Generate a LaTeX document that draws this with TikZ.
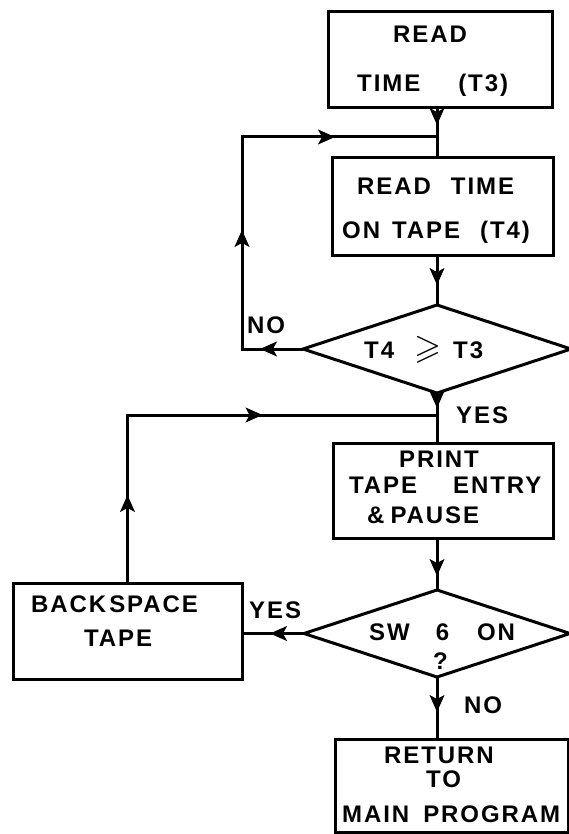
\documentclass[tikz,border=0pt]{standalone}
\usepackage{fontspec}
\usepackage{amssymb}
\usepackage{graphicx}
\setmainfont{Liberation Sans}
\newfontfamily\lettering{Liberation Sans}[LetterSpace=8]
\usetikzlibrary{arrows.meta,decorations.markings,shapes.geometric}
\newcommand\wgap[1]{\hspace*{#1pt}}
\begin{document}
\begin{tikzpicture}[x=1pt,y=-1pt,
  lw/.style={line width=3pt},
  boxnode/.style={draw,lw,rectangle,inner sep=0pt,outer sep=0pt},
  decnode/.style={draw,lw,diamond,inner sep=0pt,outer sep=0pt},
  txt/.style={font=\lettering\bfseries\fontsize{24}{24}\selectfont,anchor=base west,inner sep=0pt},
  conn/.style={lw},
  arrowsat/.style={postaction={decorate,decoration={markings,mark=at position #1 with {\arrow[line width=1.2pt]{Stealth[length=17pt,width=15pt,inset=4pt]}}}}}
]
\useasboundingbox (0,0) rectangle (569,834);
\fill[white] (0,0) rectangle (569,834);

% boxes
\node[boxnode,minimum width=224pt,minimum height=96pt] (b1) at (440,60) {};
\node[boxnode,minimum width=221pt,minimum height=97pt] (b2) at (442.5,206.5) {};
\node[decnode,minimum width=268pt,minimum height=88pt] (d1) at (437,349) {};
\node[boxnode,minimum width=220pt,minimum height=95pt] (b3) at (443,490.5) {};
\node[decnode,minimum width=266pt,minimum height=87pt] (d2) at (437,633.5) {};
\node[boxnode,minimum width=229pt,minimum height=96pt] (bs) at (127.5,631) {};
\node[boxnode,minimum width=233pt,minimum height=93pt] (rt) at (451.5,785.5) {};

% junctions and corners
\coordinate (j1) at (437,137);
\coordinate (lx) at (242,137);
\coordinate (j2) at (437,415);

% texts
\node[txt] (t1a) at (393,43) {READ};
\node[txt] (t1b) at (357,92) {TIME\wgap{38}(T3)};
\node[txt] (t2a) at (357,195) {READ\wgap{20}TIME};
\node[txt] (t2b) at (342,238) {ON\wgap{12}TAPE\wgap{20}(T4)};
\node[txt] (t3) at (364,358) {T4\wgap{20}\scalebox{1.45}{\boldmath$\geqslant$}\wgap{12}T3};
\node[txt] (tno1) at (247,333) {NO};
\node[txt] (tyes1) at (456,423) {YES};
\node[txt] (t4a) at (399,467) {PRINT};
\node[txt] (t4b) at (349,493) {TAPE\wgap{36}ENTRY};
\node[txt] (t4c) at (367,523) {\&\wgap{6}PAUSE};
\node[txt] (t5a) at (369,640) {SW\wgap{26}6\wgap{28}ON};
\node[txt] (t5b) at (433,669) {?};
\node[txt] (tyes2) at (249,618) {YES};
\node[txt] (tno2) at (464,713) {NO};
\node[txt] (t6a) at (31,612) {BACK\wgap{3}SPACE};
\node[txt] (t6b) at (84,646) {TAPE};
\node[txt] (t7a) at (384,763) {RETURN};
\node[txt] (t7b) at (426,787) {TO};
\node[txt] (t7c) at (342,822) {MAIN\wgap{14}PROGRAM};

% connectors
\draw[conn,arrowsat=17pt] (b1.south -| d1.north) -- (j1) -- (b2.north -| d1.north);
\draw[conn,arrowsat=30pt] (b2.south -| d1.north) -- (d1.north);
\draw[conn,arrowsat=43pt,arrowsat=180pt,arrowsat=366pt] (d1.west) -| (lx) -- (j1);
\draw[conn,arrowsat=15pt] (d1.south) -- (j2) -- (b3.north -| d1.south);
\draw[conn,arrowsat=38pt] (b3.south -| d2.north) -- (d2.north);
\draw[conn,arrowsat=35pt] (d2.south) -- (rt.north -| d2.south);
\draw[conn,arrowsat=34pt] (d2.west) -- (d2.west -| bs.east);
\draw[conn,arrowsat=88pt,arrowsat=303pt] (bs.north) |- (j2);
\end{tikzpicture}
\end{document}
